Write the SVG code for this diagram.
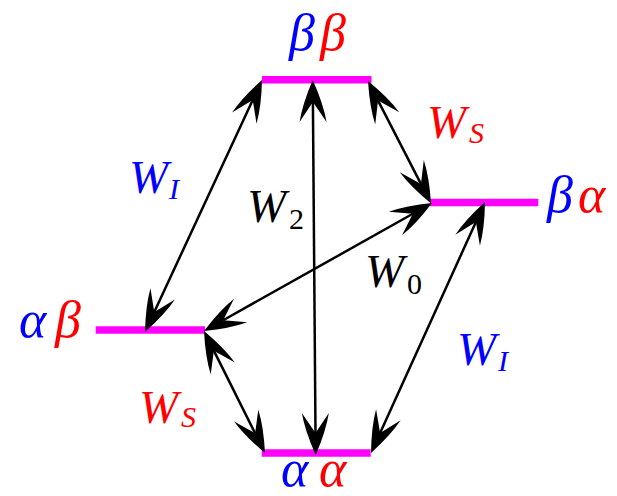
<svg xmlns="http://www.w3.org/2000/svg" width="617" height="496" viewBox="0 0 617 496">
<style>
.bar{stroke:#FF00FF;stroke-width:7.5;fill:none}
.arr{stroke:#000;stroke-width:2.5;fill:none;marker-start:url(#ah);marker-end:url(#ah)}
.m{font-family:"Liberation Serif","Times New Roman",serif;font-style:italic;font-size:47px}
.sub{font-family:"Liberation Serif","Times New Roman",serif;font-style:italic;font-size:30px}
.num{font-family:"Liberation Serif","Times New Roman",serif;font-size:30px}
.g{font-family:"Liberation Serif","Times New Roman",serif;font-style:italic;font-size:52px}
.b{fill:#0000FF}.r{fill:#FF0000}.k{fill:#000}
</style>
<defs>
<marker id="ah" markerUnits="userSpaceOnUse" markerWidth="50" markerHeight="34" viewBox="-25 -17 50 34" refX="0" refY="0" orient="auto-start-reverse">
<path d="M22,0 Q-2,-10.5 -20,-13.5 L0,0 L-20,13.5 Q-2,10.5 22,0 Z" fill="#000"/>
</marker>
</defs>
<g id="bb">
<line class="bar" x1="262" y1="79.7" x2="371.5" y2="79.7"/>
<text class="g b" x="289" y="50">β</text><text class="g r" x="320" y="50">β</text>
</g>
<g id="ba">
<line class="bar" x1="430" y1="202.5" x2="538.3" y2="202.5"/>
<text class="g b" x="547" y="212">β</text><text class="g r" x="578" y="212">α</text>
</g>
<g id="ab">
<line class="bar" x1="95.7" y1="330" x2="205" y2="330"/>
<text class="g b" x="19" y="337">α</text><text class="g r" x="55" y="337">β</text>
</g>
<g id="aa">
<line class="bar" x1="261.7" y1="453" x2="370.7" y2="453"/>
<text class="g b" x="281" y="486" font-size="50">α</text><text class="g r" x="319" y="486" font-size="50">α</text>
</g>
<g id="connectors">
<line class="arr" x1="252.73" y1="99.96" x2="154.27" y2="312.04"/>
<line class="arr" x1="312.9" y1="102" x2="315.5" y2="433"/>
<line class="arr" x1="378.06" y1="100.56" x2="420.94" y2="183.94"/>
<line class="arr" x1="412.82" y1="213.77" x2="223.18" y2="320.23"/>
<line class="arr" x1="213.84" y1="350.68" x2="255.16" y2="433.32"/>
<line class="arr" x1="475.9" y1="222.03" x2="380.1" y2="432.97"/>
</g>
<g id="labels">
<text class="m b" x="129" y="193">W</text><text class="sub b" x="169" y="199">I</text>
<text class="m k" x="247" y="222">W</text><text class="num k" x="289" y="229">2</text>
<text class="m k" x="365" y="287">W</text><text class="num k" x="407" y="294">0</text>
<text class="m b" x="457" y="365">W</text><text class="sub b" x="498" y="371">I</text>
<text class="m r" x="427" y="138">W</text><text class="sub r" x="469" y="143">S</text>
<text class="m r" x="139" y="423">W</text><text class="sub r" x="181" y="427">S</text>
</g>
</svg>
